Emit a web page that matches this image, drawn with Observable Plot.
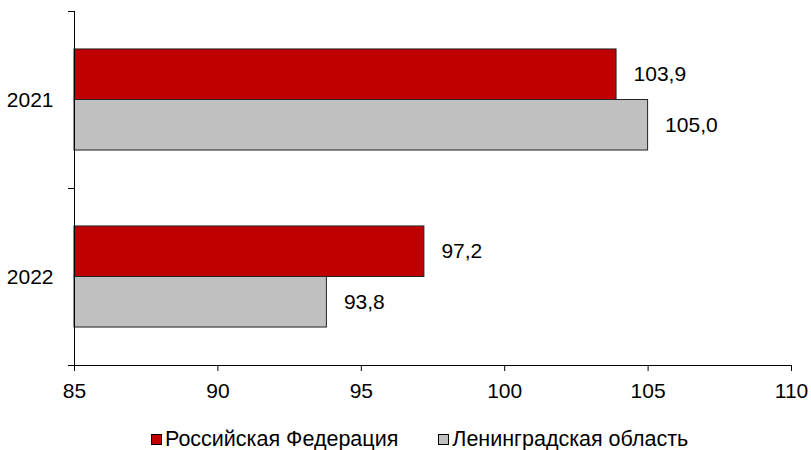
<!DOCTYPE html>
<html>
<head>
<meta charset="utf-8">
<script src="https://cdn.jsdelivr.net/npm/d3@7"></script>
<script src="https://cdn.jsdelivr.net/npm/@observablehq/plot@0.6"></script>
<style>
  html, body { margin: 0; padding: 0; background: #fff; }
  body { width: 811px; height: 450px; overflow: hidden; font-family: Arial, "Liberation Sans", sans-serif; }
  .legend { display: flex; align-items: center; padding-left: 151px; margin-top: 17px; font-size: 21.5px; line-height: 24px; color: #000; }
  .item { display: flex; align-items: center; margin-right: 40px; }
  .sw { width: 9px; height: 9px; border: 1px solid #000; margin-right: 3px; }
</style>
</head>
<body>
<div id="chart"></div>
<script>
const years = ["2021", "2022"];
const series = ["Российская Федерация", "Ленинградская область"];
const rfValues = [103.9, 97.2];
const loValues = [105.0, 93.8];
const xDomain = [85, 110];
const xTicks = [85, 90, 95, 100, 105, 110];
const colors = ["#C00000", "#C0C0C0"];

const rows = [];
years.forEach((y, i) => {
  rows.push({year: y, i, j: 0, series: series[0], value: rfValues[i]});
  rows.push({year: y, i, j: 1, series: series[1], value: loValues[i]});
});

const barFrac = 0.2855;               // thickness of one bar as share of a category band
const gap = (1 - 2 * barFrac) / 2;
const fmt = v => d3.format(".1f")(v).replace(".", ",");

const chart = Plot.plot({
  width: 811,
  height: 410,
  marginLeft: 74,
  marginRight: 20,
  marginTop: 11,
  marginBottom: 45,
  style: {fontFamily: "Arial, 'Liberation Sans', sans-serif", fontSize: "21px", color: "#000", background: "#fff"},
  x: {domain: xDomain},
  y: {domain: [0, years.length], range: [11, 365]},
  color: {domain: series, range: colors},
  marks: [
    Plot.rect(rows, {
      x1: () => xDomain[0],
      x2: "value",
      y1: d => d.i + gap + d.j * barFrac,
      y2: d => d.i + gap + (d.j + 1) * barFrac,
      fill: "series",
      stroke: "#222",
      strokeWidth: 1
    }),
    Plot.text(rows, {
      x: "value",
      y: d => d.i + gap + (d.j + 0.5) * barFrac,
      text: d => fmt(d.value),
      textAnchor: "start",
      dx: 17,
      fill: "#000"
    }),
    Plot.axisX({ticks: xTicks, tickSize: 6, tickPadding: 12, tickFormat: d => String(d), label: null, stroke: "#000", color: "#000"}),
    Plot.axisY({ticks: d3.range(years.length + 1), tickSize: 6, tickFormat: () => "", label: null, stroke: "#000"}),
    Plot.axisY({ticks: years.map((y, i) => i + 0.5), tickSize: 0, tickPadding: 21, tickFormat: d => years[Math.floor(d)], label: null, fill: "#000"}),
    Plot.ruleX([xDomain[0]], {stroke: "#000"}),
    Plot.ruleY([years.length], {stroke: "#000"})
  ]
});
document.getElementById("chart").appendChild(chart);

const legend = document.createElement("div");
legend.className = "legend";
series.forEach((s, k) => {
  const it = document.createElement("div");
  it.className = "item";
  const sw = document.createElement("span");
  sw.className = "sw";
  sw.style.background = colors[k];
  const t = document.createElement("span");
  t.textContent = s;
  it.appendChild(sw);
  it.appendChild(t);
  legend.appendChild(it);
});
document.body.appendChild(legend);
</script>
</body>
</html>
